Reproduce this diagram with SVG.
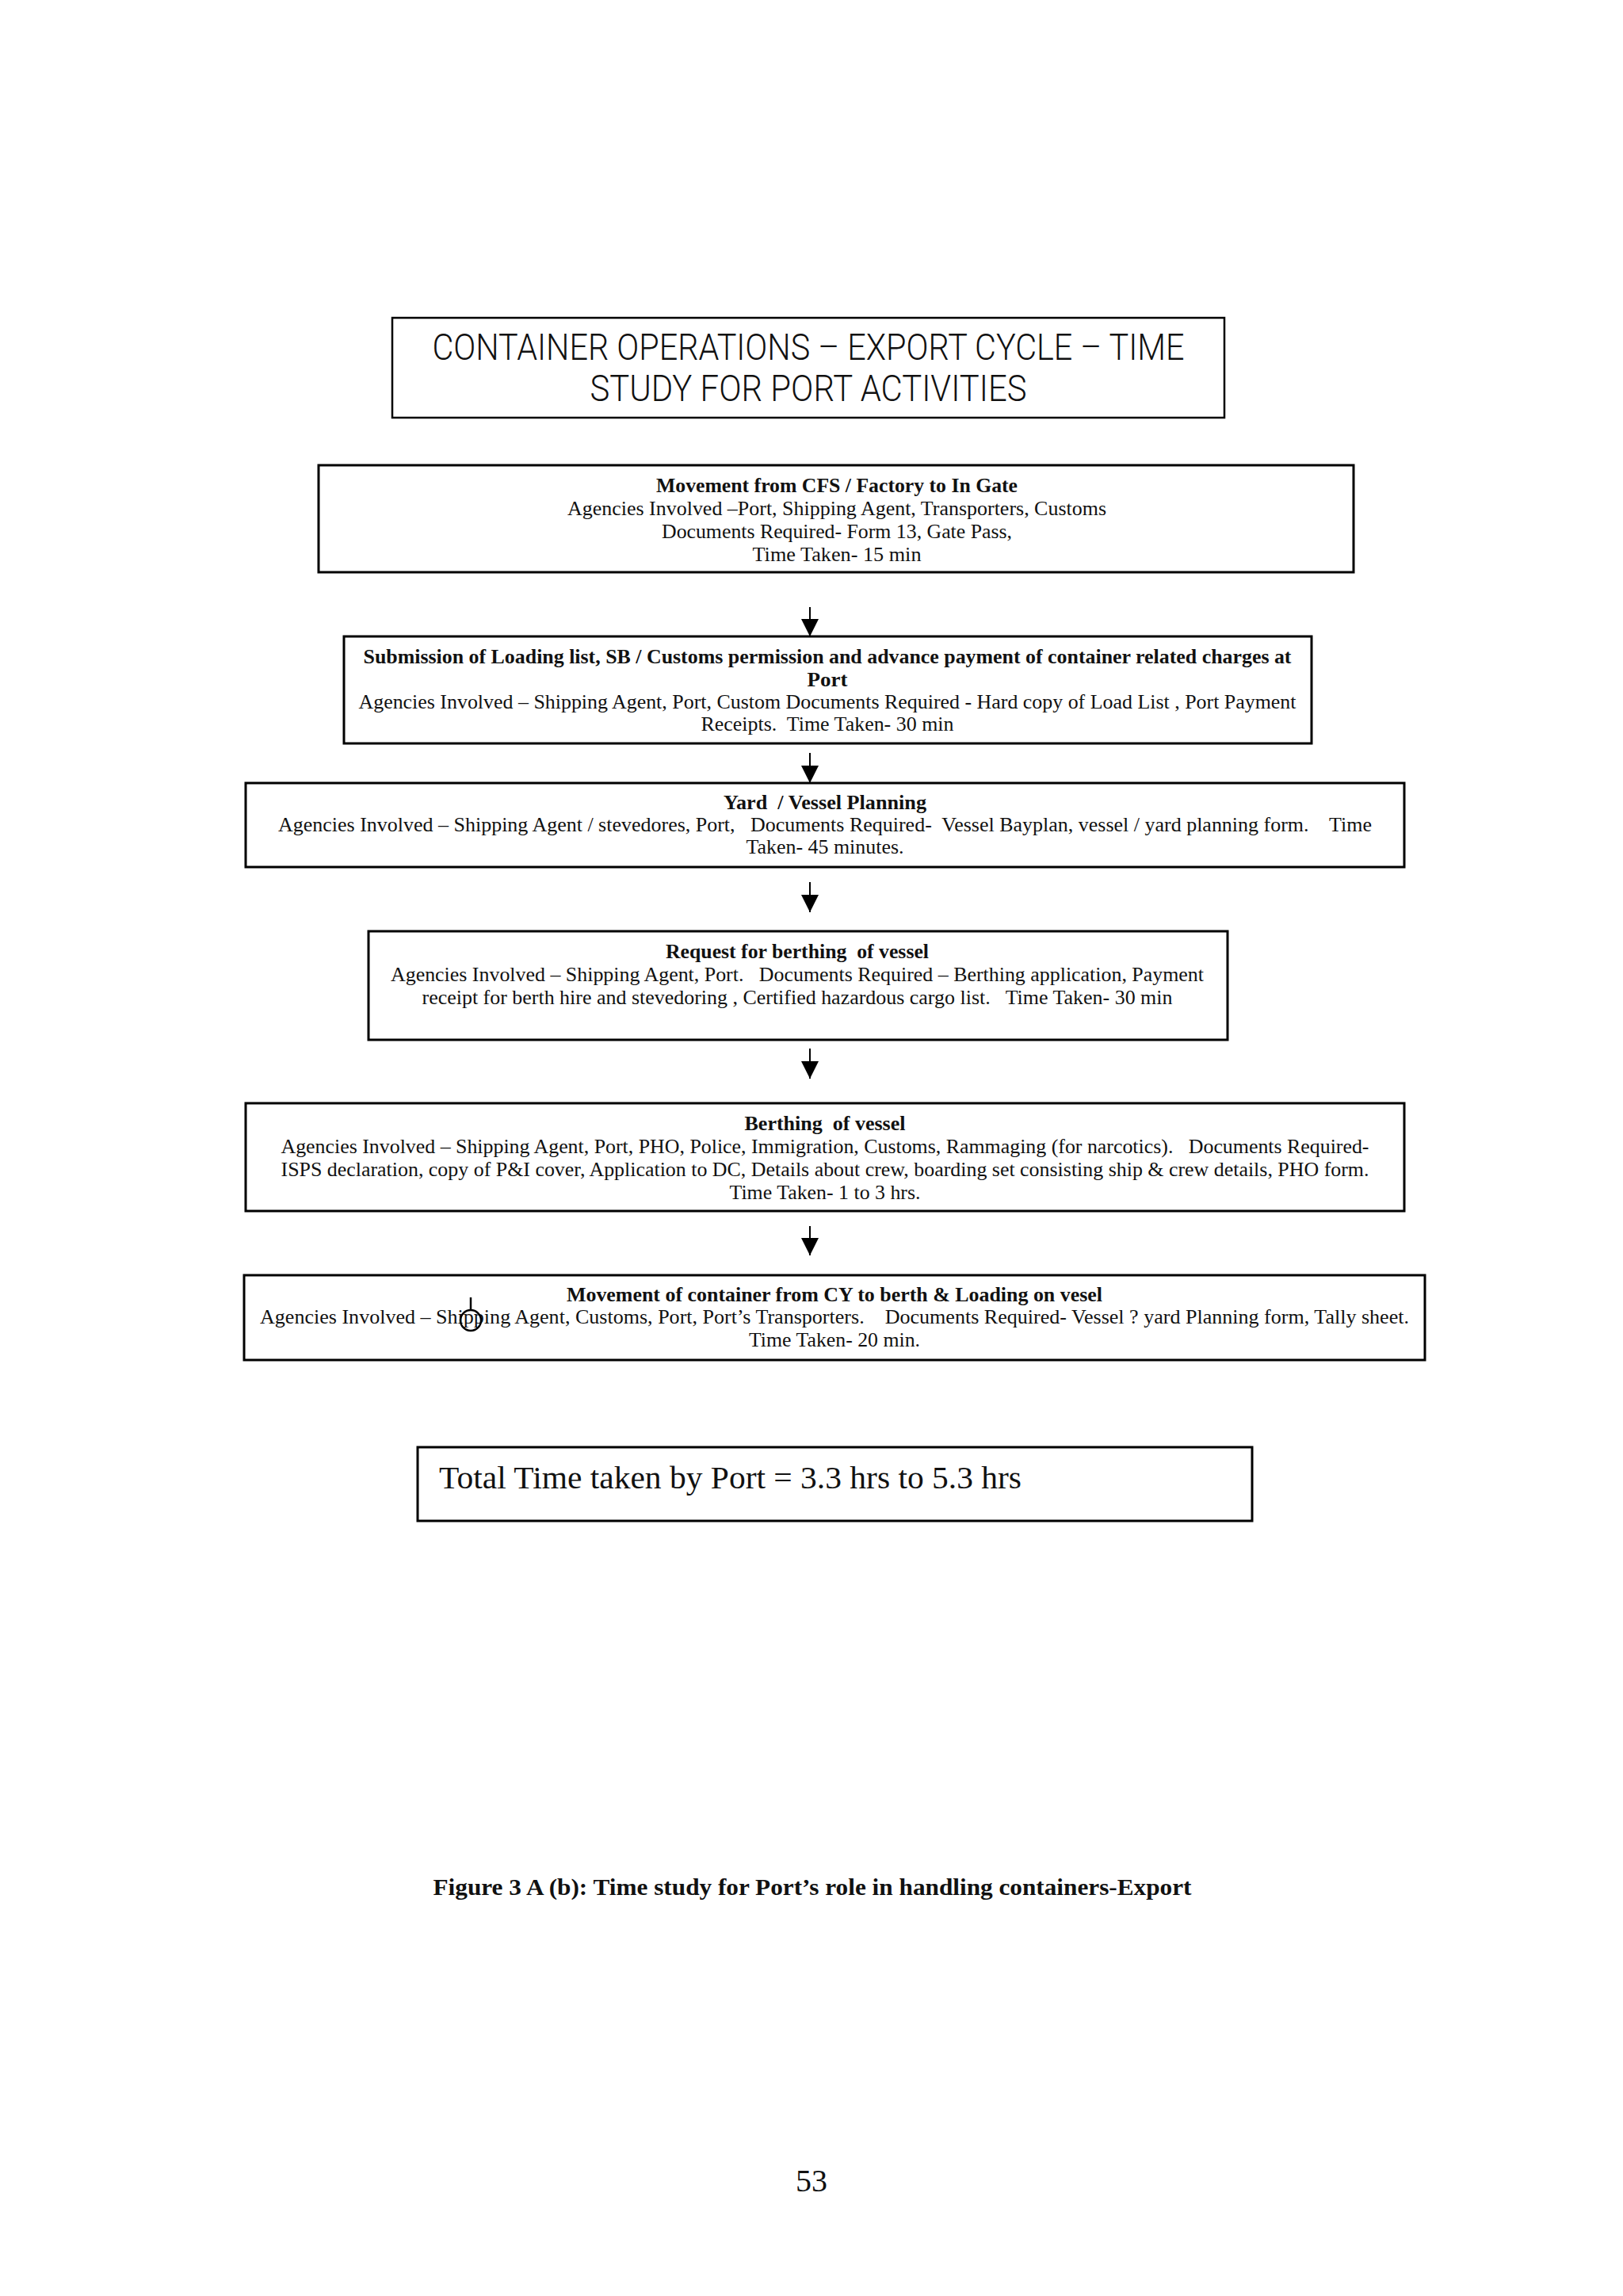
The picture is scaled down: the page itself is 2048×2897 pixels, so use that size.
<svg xmlns="http://www.w3.org/2000/svg" width="2048" height="2897" viewBox="0 0 2048 2897">
<defs>
<style>
.bg{fill:#ffffff}
.box{fill:#ffffff;stroke:#000;stroke-width:3}
.t{font-family:"Liberation Serif","Times New Roman",serif;font-size:25px;fill:#111;text-anchor:middle;white-space:pre}
.b{font-weight:bold}
.title{font-family:Roboto,"Liberation Sans",Arial,sans-serif;font-weight:300;font-size:46px;fill:#111;text-anchor:middle;white-space:pre}
.total{font-family:"Liberation Serif","Times New Roman",serif;font-size:40px;fill:#111;white-space:pre}
.cap{font-family:"Liberation Serif","Times New Roman",serif;font-weight:bold;font-size:29px;fill:#111;text-anchor:middle;white-space:pre}
.pg{font-family:"Liberation Serif","Times New Roman",serif;font-size:40px;fill:#111;text-anchor:middle}
.arr{stroke:#000;stroke-width:2;fill:none;marker-end:url(#ah)}
</style>
<marker id="ah" markerUnits="userSpaceOnUse" markerWidth="22" markerHeight="22" viewBox="0 0 22 22" refX="11" refY="22" orient="0">
<path d="M0,0 L22,0 L11,22 Z" fill="#000"/>
</marker>
</defs>
<rect class="bg" x="0" y="0" width="2048" height="2897"/>

<g id="title">
<rect class="box" x="495" y="401" width="1050" height="126" style="stroke-width:2.5"/>
<text class="title" x="1020" y="454" textLength="949" lengthAdjust="spacingAndGlyphs">CONTAINER OPERATIONS – EXPORT CYCLE – TIME</text>
<text class="title" x="1020" y="506" textLength="551" lengthAdjust="spacingAndGlyphs">STUDY FOR PORT ACTIVITIES</text>
</g>

<g id="node1">
<rect class="box" x="402" y="587" width="1306" height="135"/>
<text class="t b" x="1056" y="621" textLength="456" lengthAdjust="spacingAndGlyphs">Movement from CFS / Factory to In Gate</text>
<text class="t" x="1056" y="650" textLength="680" lengthAdjust="spacingAndGlyphs">Agencies Involved –Port, Shipping Agent, Transporters, Customs</text>
<text class="t" x="1056" y="679" textLength="442" lengthAdjust="spacingAndGlyphs">Documents Required- Form 13, Gate Pass,</text>
<text class="t" x="1056" y="708" textLength="213" lengthAdjust="spacingAndGlyphs">Time Taken- 15 min</text>
</g>

<g id="node2">
<rect class="box" x="434" y="803" width="1221" height="135"/>
<text class="t b" x="1044" y="837" textLength="1171" lengthAdjust="spacingAndGlyphs">Submission of Loading list, SB / Customs permission and advance payment of container related charges at</text>
<text class="t b" x="1044" y="866" textLength="51" lengthAdjust="spacingAndGlyphs">Port</text>
<text class="t" x="1044" y="894" textLength="1183" lengthAdjust="spacingAndGlyphs">Agencies Involved – Shipping Agent, Port, Custom Documents Required - Hard copy of Load List , Port Payment</text>
<text class="t" x="1044" y="922" textLength="319" lengthAdjust="spacingAndGlyphs">Receipts.  Time Taken- 30 min</text>
</g>

<g id="node3">
<rect class="box" x="310" y="988" width="1462" height="106"/>
<text class="t b" x="1041" y="1021" textLength="256" lengthAdjust="spacingAndGlyphs">Yard  / Vessel Planning</text>
<text class="t" x="1041" y="1049" textLength="1380" lengthAdjust="spacingAndGlyphs">Agencies Involved – Shipping Agent / stevedores, Port,   Documents Required-  Vessel Bayplan, vessel / yard planning form.    Time</text>
<text class="t" x="1041" y="1077" textLength="199" lengthAdjust="spacingAndGlyphs">Taken- 45 minutes.</text>
</g>

<g id="node4">
<rect class="box" x="465" y="1175" width="1084" height="137"/>
<text class="t b" x="1006" y="1209" textLength="332" lengthAdjust="spacingAndGlyphs">Request for berthing  of vessel</text>
<text class="t" x="1006" y="1238" textLength="1026" lengthAdjust="spacingAndGlyphs">Agencies Involved – Shipping Agent, Port.   Documents Required – Berthing application, Payment</text>
<text class="t" x="1006" y="1267" textLength="947" lengthAdjust="spacingAndGlyphs">receipt for berth hire and stevedoring , Certified hazardous cargo list.   Time Taken- 30 min</text>
</g>

<g id="node5">
<rect class="box" x="310" y="1392" width="1462" height="136"/>
<text class="t b" x="1041" y="1426" textLength="203" lengthAdjust="spacingAndGlyphs">Berthing  of vessel</text>
<text class="t" x="1041" y="1455" textLength="1373" lengthAdjust="spacingAndGlyphs">Agencies Involved – Shipping Agent, Port, PHO, Police, Immigration, Customs, Rammaging (for narcotics).   Documents Required-</text>
<text class="t" x="1041" y="1484" textLength="1373" lengthAdjust="spacingAndGlyphs">ISPS declaration, copy of P&amp;I cover, Application to DC, Details about crew, boarding set consisting ship &amp; crew details, PHO form.</text>
<text class="t" x="1041" y="1513" textLength="241" lengthAdjust="spacingAndGlyphs">Time Taken- 1 to 3 hrs.</text>
</g>

<g id="node6">
<rect class="box" x="308" y="1609" width="1490" height="107"/>
<text class="t b" x="1053" y="1642" textLength="676" lengthAdjust="spacingAndGlyphs">Movement of container from CY to berth &amp; Loading on vesel</text>
<text class="t" x="1053" y="1670" textLength="1450" lengthAdjust="spacingAndGlyphs">Agencies Involved – Shipping Agent, Customs, Port, Port’s Transporters.    Documents Required- Vessel ? yard Planning form, Tally sheet.</text>
<text class="t" x="1053" y="1699" textLength="216" lengthAdjust="spacingAndGlyphs">Time Taken- 20 min.</text>
<line x1="594" y1="1637" x2="594" y2="1653" stroke="#000" stroke-width="2.5"/>
<ellipse cx="594" cy="1666" rx="13" ry="13" fill="none" stroke="#000" stroke-width="2.5"/>
</g>

<g id="total">
<rect class="box" x="527" y="1826" width="1053" height="93"/>
<text class="total" x="554" y="1878" textLength="735" lengthAdjust="spacingAndGlyphs">Total Time taken by Port = 3.3 hrs to 5.3 hrs</text>
</g>

<g id="connectors">
<line class="arr" x1="1022" y1="766" x2="1022" y2="803"/>
<line class="arr" x1="1022" y1="950" x2="1022" y2="988"/>
<line class="arr" x1="1022" y1="1113" x2="1022" y2="1151"/>
<line class="arr" x1="1022" y1="1323" x2="1022" y2="1361"/>
<line class="arr" x1="1022" y1="1547" x2="1022" y2="1584"/>
</g>

<g id="caption">
<text class="cap" x="1025" y="2391" textLength="957" lengthAdjust="spacingAndGlyphs">Figure 3 A (b): Time study for Port’s role in handling containers-Export</text>
</g>
<g id="page">
<text class="pg" x="1024" y="2765">53</text>
</g>
</svg>
